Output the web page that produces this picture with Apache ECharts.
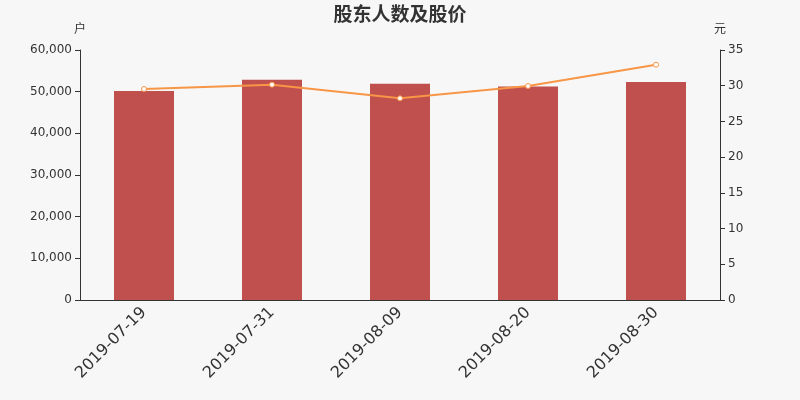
<!DOCTYPE html>
<html><head><meta charset="utf-8">
<script src="https://cdn.jsdelivr.net/npm/echarts@6/dist/echarts.min.js"></script>
<style>html,body{margin:0;padding:0;background:#f7f7f7}#c{width:800px;height:400px}</style>
</head><body><div id="c"></div>
<script>
const categories = ['2019-07-19','2019-07-31','2019-08-09','2019-08-20','2019-08-30'];
const holders = [50150, 52880, 51900, 51250, 52300];
const prices = [29.54, 30.15, 28.23, 29.96, 32.95];

const FONT = 'DejaVu Sans, Noto Sans CJK SC, sans-serif';
const chart = echarts.init(document.getElementById('c'));
const axisCommon = {
  axisLine:{show:true,lineStyle:{color:'#333'}},
  axisTick:{show:true,lineStyle:{color:'#333'}},
  axisLabel:{color:'#333',fontSize:12,fontFamily:FONT},
  splitLine:{show:false},
  nameTextStyle:{color:'#333',fontSize:12,fontFamily:FONT}
};
chart.setOption({
  backgroundColor:'#f7f7f7',
  textStyle:{fontFamily:FONT},
  title:{text:'股东人数及股价',left:'center',top:2,textStyle:{fontSize:19,fontWeight:'bold',color:'#333',fontFamily:FONT}},
  grid:{left:80,right:80,top:50,bottom:100},
  xAxis:{type:'category',data:categories,
    axisLine:{lineStyle:{color:'#333'}},axisTick:{lineStyle:{color:'#333'}},
    axisLabel:{rotate:45,fontSize:16,color:'#333',margin:10,fontFamily:FONT}},
  yAxis:[
    Object.assign({},axisCommon,{type:'value',name:'户',min:0,max:60000,interval:10000,position:'left',nameGap:14,
      axisLabel:{color:'#333',fontSize:12,fontFamily:FONT,formatter:v=>v.toLocaleString('en-US')}}),
    Object.assign({},axisCommon,{type:'value',name:'元',min:0,max:35,interval:5,position:'right',nameGap:14})
  ],
  series:[
    {type:'bar',data:holders,barWidth:60,itemStyle:{color:'#c0504d'},yAxisIndex:0},
    {type:'line',data:prices,yAxisIndex:1,symbol:'circle',symbolSize:5,
      itemStyle:{color:'#fff',borderColor:'#f79646',borderWidth:1},
      lineStyle:{color:'#f79646',width:2}}
  ]
});
</script></body></html>
